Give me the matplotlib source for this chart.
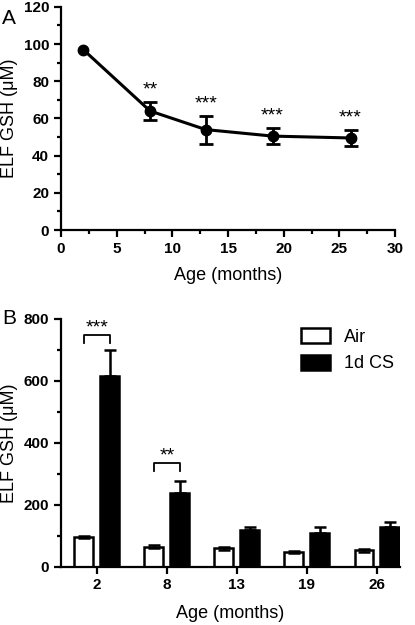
import matplotlib
matplotlib.use("Agg")
import matplotlib.pyplot as plt
import numpy as np
from matplotlib.ticker import MultipleLocator

plt.rcParams['font.family'] = ['Liberation Sans', 'DejaVu Sans']

# Panel A data
ages_a = [2, 8, 13, 19, 26]
gsh_a = [97, 64, 54, 50.5, 49.5]
err_a = [np.nan, 5, 7.5, 4.5, 4.5]
sig_a = ['', '**', '***', '***', '***']

# Panel B data
ages_b = ['2', '8', '13', '19', '26']
air = [97, 65, 59, 47, 53]
air_err = [3, 4, 5, 3, 4]
cs = [615, 237, 120, 108, 127]
cs_err = [85, 40, 8, 20, 17]
brackets = [(0, '***', 748, 722), (1, '**', 334, 309)]

fig = plt.figure(figsize=(4.15, 6.25), dpi=100)

lw_sp = 1.6
def style(ax):
    for s in ['top', 'right']:
        ax.spines[s].set_visible(False)
    for s in ['left', 'bottom']:
        ax.spines[s].set_linewidth(lw_sp)
    ax.tick_params(which='major', direction='out', length=5, width=lw_sp, labelsize=11)
    ax.tick_params(which='minor', direction='out', length=3, width=lw_sp)
    for lab in ax.get_xticklabels() + ax.get_yticklabels():
        lab.set_fontweight('bold')

# ---- Panel A
axA = fig.add_axes([0.147, 0.632, 0.805, 0.357])
axA.plot(ages_a, gsh_a, color='black', lw=2.2, marker='o', ms=7.5, clip_on=False)
axA.errorbar(ages_a, gsh_a, yerr=err_a, fmt='none', ecolor='black',
             capsize=5, capthick=2, elinewidth=2)
axA.set_xlim(0, 30)
axA.set_ylim(0, 120)
axA.xaxis.set_major_locator(MultipleLocator(5))
axA.xaxis.set_minor_locator(MultipleLocator(2.5))
axA.yaxis.set_major_locator(MultipleLocator(20))
axA.yaxis.set_minor_locator(MultipleLocator(10))
style(axA)
for x, y, e, s in zip(ages_a, gsh_a, err_a, sig_a):
    if s:
        axA.text(x, y + e + 1.5, s, ha='center', va='bottom', fontsize=14)
axA.set_xlabel('Age (months)', fontsize=13, labelpad=8)
axA.set_ylabel('ELF GSH (\u03bcM)', fontsize=13)
fig.text(0.005, 0.985, 'A', fontsize=15, ha='left', va='top')

# ---- Panel B
axB = fig.add_axes([0.147, 0.0933, 0.817, 0.3963])
pos = np.arange(len(ages_b))
off = 0.185
w = 0.27
axB.bar(pos - off, air, w, yerr=air_err, color='white', edgecolor='black', lw=1.8,
        capsize=4, error_kw=dict(elinewidth=1.8, capthick=1.8), label='Air')
axB.bar(pos + off, cs, w, yerr=[np.zeros(len(cs)), cs_err], color='black', edgecolor='black', lw=1.8,
        capsize=4, error_kw=dict(elinewidth=1.8, capthick=1.8), label='1d CS')
axB.set_xlim(-0.51, 4.33)
axB.set_ylim(0, 800)
axB.set_xticks(pos)
axB.set_xticklabels(ages_b)
axB.yaxis.set_major_locator(MultipleLocator(200))
axB.yaxis.set_minor_locator(MultipleLocator(100))
style(axB)
for i, s, top, leg in brackets:
    x0, x1 = i - off, i + off
    axB.plot([x0, x0, x1, x1], [leg, top, top, leg], color='black', lw=1.3)
    axB.text(i, top - 4, s, ha='center', va='bottom', fontsize=14)
axB.set_xlabel('Age (months)', fontsize=13, labelpad=9)
axB.set_ylabel('ELF GSH (\u03bcM)', fontsize=13)
axB.legend(loc='upper right', frameon=False, fontsize=13, handlelength=1.6,
           handleheight=0.9, bbox_to_anchor=(1.03, 1.03))
fig.text(0.005, 0.505, 'B', fontsize=15, ha='left', va='top')

fig.savefig('out.png', dpi=100)
